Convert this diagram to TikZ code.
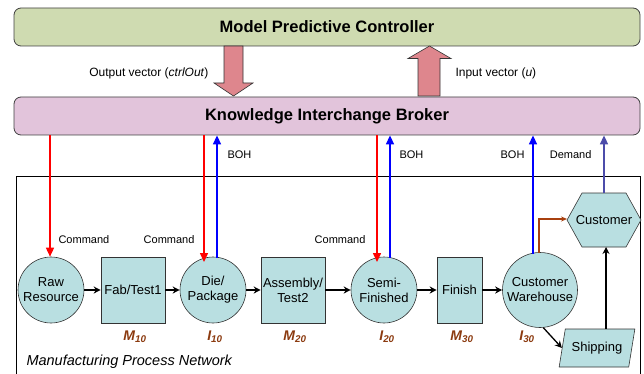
\documentclass[tikz,border=0pt]{standalone}
\usepackage{fontspec}
\setmainfont{Liberation Sans}
\usetikzlibrary{arrows.meta,shapes.geometric}
\definecolor{mpcfill}{HTML}{CFDBB1}
\definecolor{kibfill}{HTML}{E2C4DB}
\definecolor{blockfill}{HTML}{DE868D}
\definecolor{nodefill}{HTML}{B9DFE1}
\definecolor{labbrown}{HTML}{8B3A0F}
\definecolor{demandcol}{HTML}{4C4CAA}
\definecolor{brownarr}{HTML}{A8400F}
\tikzset{
  bar/.style={draw=black!75, line width=0.8pt, rounded corners=7pt, minimum width=626pt, minimum height=38pt, font=\fontsize{16.5}{18}\selectfont\bfseries},
  store/.style={circle, draw=black!80, fill=nodefill, line width=0.6pt, minimum size=66pt, inner sep=0pt, align=center, font=\fontsize{13}{15}\selectfont},
  proc/.style={rectangle, draw=black!80, fill=nodefill, line width=0.6pt, minimum width=64pt, minimum height=66pt, inner sep=1pt, align=center, font=\fontsize{13}{15}\selectfont},
  idx/.style={font=\fontsize{14}{16}\selectfont\bfseries\itshape, text=labbrown},
  small/.style={font=\fontsize{11}{12}\selectfont},
  flow/.style={-{Stealth[length=7pt,width=7pt]}, line width=1.3pt, black},
  cmd/.style={-{Triangle[length=9pt,width=8pt]}, line width=1.5pt, red},
  boh/.style={-{Triangle[length=9pt,width=8pt]}, line width=1.5pt, blue},
  block/.style={draw=black!80, fill=blockfill, line width=0.6pt, line join=miter}
}
\begin{document}
\begin{tikzpicture}[x=1pt,y=-1pt]
\useasboundingbox (0,0) rectangle (644,374);
% top bars
\node[bar, fill=mpcfill] (mpc) at (327,27) {Model Predictive Controller};
\node[bar, fill=kibfill] (kib) at (327,116) {Knowledge Interchange Broker};
% block arrows
\draw[block] (224,46) -- (243,46) -- (243,83) -- (253,83) -- (233.5,96) -- (214,83) -- (224,83) -- cycle;
\draw[block] (418,96) -- (418,58.5) -- (408,58.5) -- (429.5,46) -- (451,58.5) -- (440,58.5) -- (440,96) -- cycle;
\node[font=\fontsize{12}{14}\selectfont, anchor=east] (outlab) at (212,73) {Output vector (\textit{ctrlOut})};
\node[font=\fontsize{12}{14}\selectfont, anchor=west] (inlab) at (452,73) {Input vector (\textit{u})};
% network box
\begin{scope}
\clip (0,0) rectangle (644,374);
\draw[line width=0.8pt] (16,176) rectangle (640,380);
\end{scope}
\node[font=\fontsize{14.5}{16}\selectfont\itshape, anchor=west] (mpn) at (23,362) {Manufacturing Process Network};
% nodes
\node[store] (raw) at (51,290) {Raw\\Resource};
\node[proc] (fab) at (133,290) {Fab/Test1};
\node[store] (die) at (213,290) {Die/\\Package};
\node[proc] (asm) at (293,290) {Assembly/\\Test2};
\node[store] (semi) at (384,290) {Semi-\\Finished};
\node[proc, minimum width=45pt] (fin) at (459.5,290) {Finish};
\node[store, minimum size=75pt] (cw) at (540,290) {Customer\\Warehouse};
\node[trapezium, trapezium left angle=68, trapezium right angle=112, trapezium stretches=true, draw=black!80, fill=nodefill, line width=0.6pt, minimum width=76pt, minimum height=38pt, inner sep=0pt, font=\fontsize{13}{15}\selectfont] (ship) at (597,348) {Shipping};
% hexagon
\fill[nodefill] (567,220) -- (582,193) -- (626,193) -- (641,220) -- (626,247) -- (582,247) -- cycle;
\draw[black!80, line width=0.6pt] (567,220) -- (582,193) -- (626,193) -- (641,220) -- (626,247) -- (582,247) -- cycle;
\node[minimum width=74pt, minimum height=54pt, inner sep=0pt, font=\fontsize{13}{15}\selectfont] (cust) at (604,220) {Customer};
% index labels
\node[idx] (m10) at (135,337) {M\textsubscript{10}};
\node[idx] (i10) at (215,337) {I\textsubscript{10}};
\node[idx] (m20) at (295,337) {M\textsubscript{20}};
\node[idx] (i20) at (387,337) {I\textsubscript{20}};
\node[idx] (m30) at (462,337) {M\textsubscript{30}};
\node[idx] (i30) at (527,337) {I\textsubscript{30}};
% flow arrows
\draw[flow] (raw) -- (fab);
\draw[flow] (fab) -- (die);
\draw[flow] (die) -- (asm);
\draw[flow] (asm) -- (semi);
\draw[flow] (semi) -- (fin);
\draw[flow] (fin) -- (cw);
\draw[flow] (cw.-85) -- (ship.west);
\draw[flow] (ship.north -| 606,0) -- (606,247);
% command / BOH arrows
\draw[cmd] (kib.south -| 50,0) -- (raw.north -| 50,0);
\draw[cmd] (kib.south -| 204,0) -- (204,262);
\draw[boh] (217,258) -- (kib.south -| 217,0);
\draw[cmd] (kib.south -| 377,0) -- (377,262);
\draw[boh] (390,258) -- (kib.south -| 390,0);
\draw[boh] (533,253.5) -- (kib.south -| 533,0);
\draw[-{Triangle[length=9pt,width=8pt]}, line width=1.5pt, demandcol] (604,193) -- (kib.south -| 604,0);
\draw[-{Stealth[length=6pt,width=5pt]}, line width=1.3pt, brownarr] (539,252.5) -- (539,219) -- (567,219);
% labels
\node[small, anchor=west] (c1) at (55,240) {Command};
\node[small, anchor=east] (c2) at (198,240) {Command};
\node[small, anchor=east] (c3) at (369,240) {Command};
\node[small, anchor=west] (b1) at (224,155) {BOH};
\node[small, anchor=west] (b2) at (396,155) {BOH};
\node[small, anchor=east] (b3) at (528,155) {BOH};
\node[small, anchor=east] (dm) at (595,155) {Demand};
\end{tikzpicture}
\end{document}
